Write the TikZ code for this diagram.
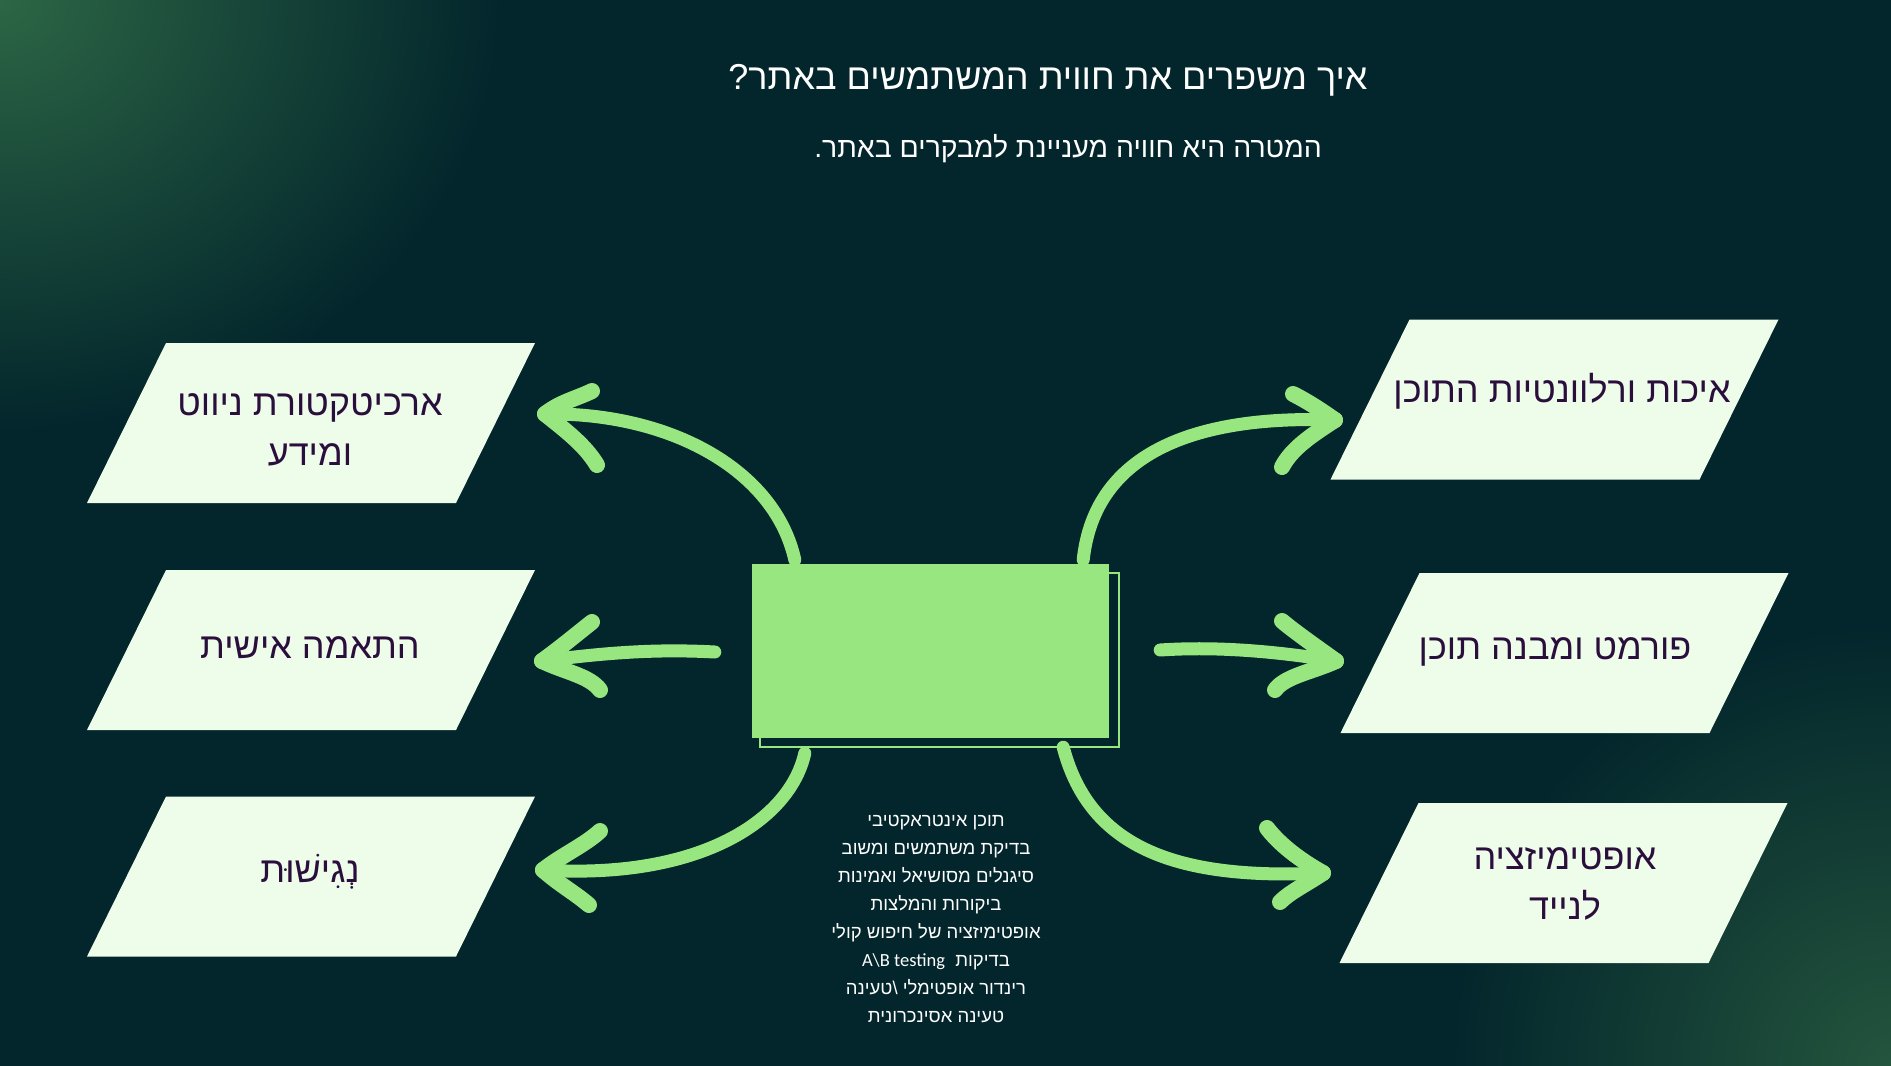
\documentclass[tikz,border=0pt]{standalone}
\usepackage{fontspec}
\setmainfont{Liberation Sans}[Script=Hebrew]
\newfontfamily\carl{Carlito}
\TeXXeTstate=1
\usetikzlibrary{calc}
\definecolor{bgc}{HTML}{03262C}
\definecolor{glowc}{HTML}{2C6645}
\definecolor{glowb}{HTML}{24553D}
\definecolor{grn}{HTML}{98E680}
\definecolor{boxc}{HTML}{EEFCEA}
\definecolor{txtc}{HTML}{2A0E3C}
\newcommand\pgram[3]{%
  \fill[boxc] ($#1+(-224,80)$) -- ($#1+(145,80)$) -- ($#1+(224,-80)$) -- ($#1+(-145,-80)$) -- cycle;}
\begin{document}
\begin{tikzpicture}[x=1pt,y=-1pt,
  boxtext/.style={text=txtc,font=\fontsize{36}{50}\selectfont,align=center,inner sep=0pt},
  arr/.style={draw=grn,line width=13,line cap=round,line join=round},
  head/.style={draw=grn,line width=16,line cap=round,line join=round},
  cbox/.style={minimum width=357,minimum height=174,inner sep=0pt}]
\useasboundingbox (0,0) rectangle (1891,1066);
\fill[bgc] (0,0) rectangle (1891,1066);
\begin{scope}
\clip (0,0) rectangle (1891,1066);
\shade[inner color=glowc,outer color=bgc] (0,0) ellipse[x radius=500,y radius=430];
\shade[inner color=glowb,outer color=bgc] (1891,1066) circle[radius=440];
\end{scope}
% title
\node[text=white,font=\fontsize{36}{44}\selectfont] (title) at (1048,80) {\beginR איך משפרים את חווית המשתמשים באתר\kern0pt?\endR};
\node[text=white,font=\fontsize{28.4}{34}\selectfont] (sub) at (1068,149) {\beginR המטרה היא חוויה מעניינת למבקרים באתר\kern0pt.\endR};
% boxes
\pgram{(311,423)}{}{}
\node[boxtext] (b1) at (310,430) {\beginR ארכיטקטורת ניווט\endR\\\beginR ומידע\endR};
\pgram{(311,650)}{}{}
\node[boxtext] (b2) at (310,648) {\beginR התאמה אישית\endR};
\pgram{(311,876.5)}{}{}
\node[boxtext] (b3) at (310,872) {\beginR נְגִישׁוּת\endR};
\pgram{(1554.5,399.5)}{}{}
\node[boxtext] (b4) at (1562,391) {\beginR איכות ורלוונטיות התוכן\endR};
\pgram{(1564.5,653)}{}{}
\node[boxtext] (b5) at (1555,652) {\beginR פורמט ומבנה תוכן\endR};
\pgram{(1563.5,883)}{}{}
\node[boxtext] (b6) at (1565,884) {\beginR אופטימיזציה\endR\\\beginR לנייד\endR};
% center box
\node[cbox] (c) at (930.5,651) {};
\draw[grn,line width=2.5] ($(c.north west)+(8,9)$) rectangle ($(c.south east)+(10,9)$);
\fill[grn] (c.north west) rectangle (c.south east);
% list
\node[text=white,font=\fontsize{18.5}{27.9}\selectfont,align=center,anchor=north] (list) at (936,812) {%
\beginR תוכן אינטראקטיבי\endR\\
\beginR בדיקת משתמשים ומשוב\endR\\
\beginR סיגנלים מסושיאל ואמינות\endR\\
\beginR ביקורות והמלצות\endR\\
\beginR אופטימיזציה של חיפוש קולי\endR\\
\beginR בדיקות \ \beginL{\carl A\textbackslash B testing}\endL\endR\\
\beginR רינדור אופטימלי \textbackslash\kern0pt טעינה\endR\\
\beginR טעינה אסינכרונית\endR};
% arrow anchors
\coordinate (s1) at ($(c.north west)+(43,-4)$);
\coordinate (s2) at ($(c.west)+(-37,1)$);
\coordinate (s3) at ($(c.south west)+(53,15)$);
\coordinate (s4) at ($(c.north east)+(-26,-4)$);
\coordinate (s5) at ($(c.east)+(51,-1)$);
\coordinate (s6) at ($(c.south east)+(-46,9)$);
\coordinate (t1) at (545,414);
\coordinate (t2) at (542,661);
\coordinate (t3) at (543,870);
\coordinate (t4) at (1335,420);
\coordinate (t5) at (1336,661);
\coordinate (t6) at (1323,873);
% arrows
\draw[arr] (s1) .. controls (775,470) and (670,412) .. (t1);
\draw[head] (t1) .. controls (560,402) and (578,398) .. (592,391);
\draw[head] (t1) .. controls (565,430) and (585,445) .. (597,465);
\draw[arr] (s2) .. controls (660,649) and (610,652) .. (t2);
\draw[head] (t2) .. controls (560,648) and (578,633) .. (592,622);
\draw[head] (t2) .. controls (565,672) and (590,676) .. (600,690);
\draw[arr] (s3) .. controls (790,820) and (700,880) .. (t3);
\draw[head] (t3) .. controls (562,855) and (585,845) .. (600,831);
\draw[head] (t3) .. controls (560,885) and (575,893) .. (589,905);
\draw[arr] (s4) .. controls (1095,450) and (1200,415) .. (t4);
\draw[head] (t4) .. controls (1318,408) and (1305,400) .. (1293,394);
\draw[head] (t4) .. controls (1312,435) and (1292,448) .. (1282,467);
\draw[arr] (s5) .. controls (1220,646) and (1280,652) .. (t5);
\draw[head] (t5) .. controls (1318,648) and (1295,632) .. (1282,621);
\draw[head] (t5) .. controls (1312,672) and (1285,676) .. (1275,690);
\draw[arr] (s6) .. controls (1090,850) and (1180,880) .. (t6);
\draw[head] (t6) .. controls (1300,860) and (1280,845) .. (1267,828);
\draw[head] (t6) .. controls (1305,885) and (1290,892) .. (1280,902);
\end{tikzpicture}
\end{document}
